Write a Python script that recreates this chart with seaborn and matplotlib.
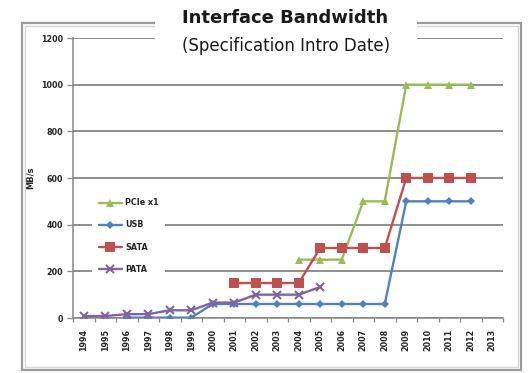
import matplotlib
matplotlib.use("Agg")
import matplotlib.pyplot as plt
from matplotlib.patches import Rectangle
import numpy as np
import pandas as pd
import seaborn as sns

# Category axis: one slot per year
years = [str(y) for y in range(1994, 2014)]

# Peak bandwidth (MB/s) by spec introduction year
pcie_years = list(range(2004, 2013))
pcie_mbps = [250, 250, 250, 500, 500, 1000, 1000, 1000, 1000]

usb_years = list(range(1996, 2013))
usb_mbps = [1.5, 1.5, 1.5, 1.5, 60, 60, 60, 60, 60, 60, 60, 60, 60,
            500, 500, 500, 500]

sata_years = list(range(2001, 2013))
sata_mbps = [150, 150, 150, 150, 300, 300, 300, 300, 600, 600, 600, 600]

pata_years = list(range(1994, 2006))
pata_mbps = [8.3, 8.3, 16.6, 16.6, 33, 33, 66, 66, 100, 100, 100, 133]

series_names = ["PCIe x1", "USB", "SATA", "PATA"]


def to_frame(name, yrs, vals):
    return pd.DataFrame({
        "Interface": name,
        "pos": [years.index(str(y)) for y in yrs],
        "MB/s": vals,
    })


df = pd.concat([
    to_frame("PCIe x1", pcie_years, pcie_mbps),
    to_frame("USB", usb_years, usb_mbps),
    to_frame("SATA", sata_years, sata_mbps),
    to_frame("PATA", pata_years, pata_mbps),
], ignore_index=True)

styles = {
    "PCIe x1": dict(color="#9BBB59", marker="^", markersize=6, mew=0),
    "USB": dict(color="#4F81BD", marker="D", markersize=4.5, mew=0),
    "SATA": dict(color="#C0504D", marker="s", markersize=7, mew=0),
    "PATA": dict(color="#8064A2", marker="x", markersize=5.5, mew=1.5),
}

sns.set_theme(style="white")
plt.rcParams["font.family"] = ["DejaVu Sans"]

fig = plt.figure(figsize=(5.30, 3.73), dpi=100)
W, H = 530, 373
ax = fig.add_axes([73 / W, 1 - 318 / H, (503 - 73) / W, (318 - 38) / H])

for name in series_names:
    st = styles[name]
    sns.lineplot(data=df[df["Interface"] == name], x="pos", y="MB/s",
                 ax=ax, label=name, color=st["color"], marker=st["marker"],
                 markersize=st["markersize"], markeredgewidth=st["mew"],
                 markeredgecolor=st["color"], linewidth=1.7, zorder=3)

# Axes styling
ax.set_xlim(-0.5, len(years) - 0.5)
ax.set_ylim(0, 1200)
ax.set_yticks(np.arange(0, 1201, 200))
ax.set_xticks(range(len(years)))
ax.set_xticklabels(years, rotation=90, fontsize=5.8, fontweight="bold")
ax.set_xticks(np.arange(-0.5, len(years), 1), minor=True)
ax.tick_params(axis="x", which="major", bottom=True, length=0, pad=8)
ax.tick_params(axis="x", which="minor", bottom=True, length=3,
               color="#868686", width=0.9)
ax.tick_params(axis="y", left=True, length=4, color="#868686", width=0.9,
               pad=3, labelsize=5.8)
for lbl in ax.get_yticklabels():
    lbl.set_fontweight("bold")
ax.yaxis.grid(True, color="#858585", linewidth=1.3)
ax.xaxis.grid(False)
for side in ("top", "right"):
    ax.spines[side].set_visible(False)
for side in ("left", "bottom"):
    ax.spines[side].set_color("#868686")
    ax.spines[side].set_linewidth(1.1)
ax.set_xlabel("")
ax.set_ylabel("MB/s", fontsize=6, fontweight="bold")
ax.yaxis.set_label_coords(-0.09, 0.5)

leg = ax.legend(loc="upper left", bbox_to_anchor=(0.045, 0.45),
                frameon=True, fontsize=5.8, handlelength=2.9,
                labelspacing=1.62, borderpad=0.8, handletextpad=0.4,
                borderaxespad=0)
leg.get_frame().set_facecolor("white")
leg.get_frame().set_edgecolor("none")
leg.get_frame().set_alpha(1)
for t in leg.get_texts():
    t.set_fontweight("bold")

# Chart frame
fig.add_artist(Rectangle((22 / W, 1 - 370 / H), (521 - 22) / W, (370 - 23) / H,
                         transform=fig.transFigure, fill=False,
                         edgecolor="#9a9a9a", linewidth=1.6, zorder=1))
fig.add_artist(Rectangle((25 / W, 1 - 367 / H), (518 - 25) / W, (367 - 26) / H,
                         transform=fig.transFigure, fill=False,
                         edgecolor="#d6d6d6", linewidth=1.0, zorder=1))

# Title block on a white band over the frame and top gridline
fig.add_artist(Rectangle((155 / W, 1 - 59 / H), (417 - 155) / W, (59 - 5) / H,
                         transform=fig.transFigure, facecolor="white",
                         edgecolor="none", zorder=2))
fig.text(285 / W, 1 - 18 / H, "Interface Bandwidth", ha="center",
         va="center", fontsize=13, fontweight="bold", color="#1a1a1a",
         zorder=3)
fig.text(286 / W, 1 - 46 / H, "(Specification Intro Date)", ha="center",
         va="center", fontsize=12, color="#1a1a1a", zorder=3)

fig.savefig("out.png", dpi=100, facecolor="white")
